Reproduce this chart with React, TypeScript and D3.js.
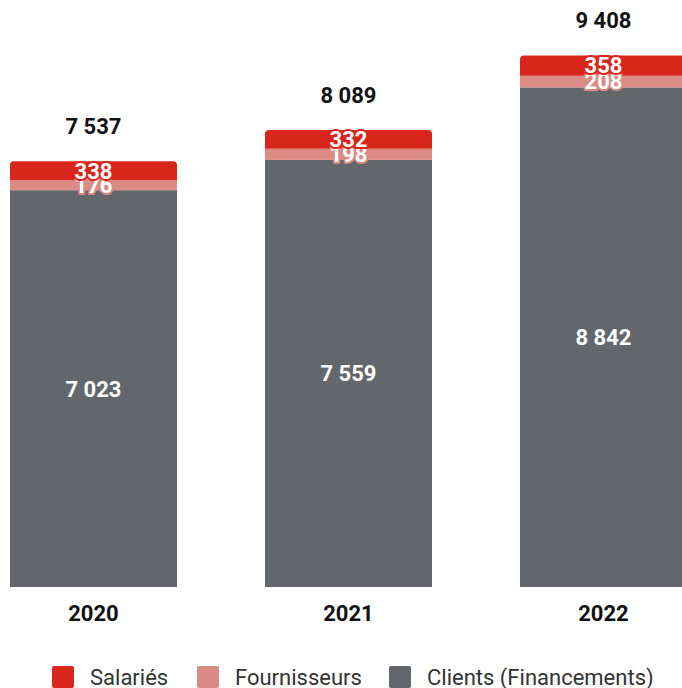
import React from "react";
import * as d3 from "d3";

const years = ["2020", "2021", "2022"];
const clients = [7023, 7559, 8842];
const fournisseurs = [176, 198, 208];
const salaries = [338, 332, 358];
const totals = [7537, 8089, 9408];

const seriesKeys = ["clients", "fournisseurs", "salaries"];
const seriesColors = ["#63666a", "#dc8a84", "#d9261c"];

const legendItems = [
  { name: "Salariés", color: "#d9261c", x: 52 },
  { name: "Fournisseurs", color: "#dc8a84", x: 197 },
  { name: "Clients (Financements)", color: "#63666a", x: 389 },
];

const W = 682;
const H = 688;
const FONT = "Roboto, 'Noto Sans', sans-serif";
const fmt = (v: number) => d3.format(",")(v).replace(/,/g, " ");

function topRoundedRect(x: number, y: number, w: number, h: number, r: number) {
  return `M${x},${y + h}V${y + r}Q${x},${y} ${x + r},${y}H${x + w - r}Q${x + w},${y} ${x + w},${y + r}V${y + h}Z`;
}

export default function App() {
  const rows = years.map((y, i) => ({
    year: y,
    clients: clients[i],
    fournisseurs: fournisseurs[i],
    salaries: salaries[i],
  }));
  const stack = d3.stack<any>().keys(seriesKeys)(rows);
  const x = d3.scaleBand().domain(years).range([10, 687]).paddingInner(0.345).paddingOuter(0);
  const y = d3.scaleLinear().domain([0, 10000]).range([587, 22]);
  const bw = x.bandwidth();

  return (
    <svg width={W} height={H} style={{ position: "absolute", left: 0, top: 0, fontFamily: FONT }}>
      <rect width={W} height={H} fill="#fff" />
      {stack.map((layer, li) =>
        layer.map((d, i) => {
          const x0 = x(years[i])!;
          const y0 = y(d[1]);
          const h = y(d[0]) - y(d[1]);
          return li === stack.length - 1 ? (
            <path key={`${li}-${i}`} d={topRoundedRect(x0, y0, bw, h, 4)} fill={seriesColors[li]} />
          ) : (
            <rect key={`${li}-${i}`} x={x0} y={y0} width={bw} height={h} fill={seriesColors[li]} />
          );
        })
      )}
      {stack.map((layer, li) =>
        layer.map((d, i) => {
          const cx = x(years[i])! + bw / 2;
          const cy = (y(d[0]) + y(d[1])) / 2;
          const v = (d.data as any)[seriesKeys[li]];
          return (
            <text
              key={`l${li}-${i}`}
              x={cx}
              y={cy}
              dy="0.36em"
              textAnchor="middle"
              fontSize={22}
              fontWeight="bold"
              fill="#fff"
              stroke={li === 0 ? "none" : seriesColors[li]}
              strokeWidth={li === 0 ? 0 : 4}
              strokeLinejoin="round"
              paintOrder="stroke"
            >
              {fmt(v)}
            </text>
          );
        })
      )}
      {totals.map((t, i) => (
        <text
          key={`t${i}`}
          x={x(years[i])! + bw / 2}
          y={y(t) - 35}
          dy="0.36em"
          textAnchor="middle"
          fontSize={22}
          fontWeight="bold"
          fill="#111"
        >
          {fmt(t)}
        </text>
      ))}
      {years.map((yr) => (
        <text
          key={yr}
          x={x(yr)! + bw / 2}
          y={613}
          dy="0.36em"
          textAnchor="middle"
          fontSize={22}
          fontWeight="bold"
          fill="#111"
        >
          {yr}
        </text>
      ))}
      {legendItems.map((it) => (
        <g key={it.name}>
          <rect x={it.x} y={666} width={22} height={22} rx={2} fill={it.color} />
          <text x={it.x + 38} y={677} dy="0.36em" fontSize={22} fill="#333">
            {it.name}
          </text>
        </g>
      ))}
    </svg>
  );
}
